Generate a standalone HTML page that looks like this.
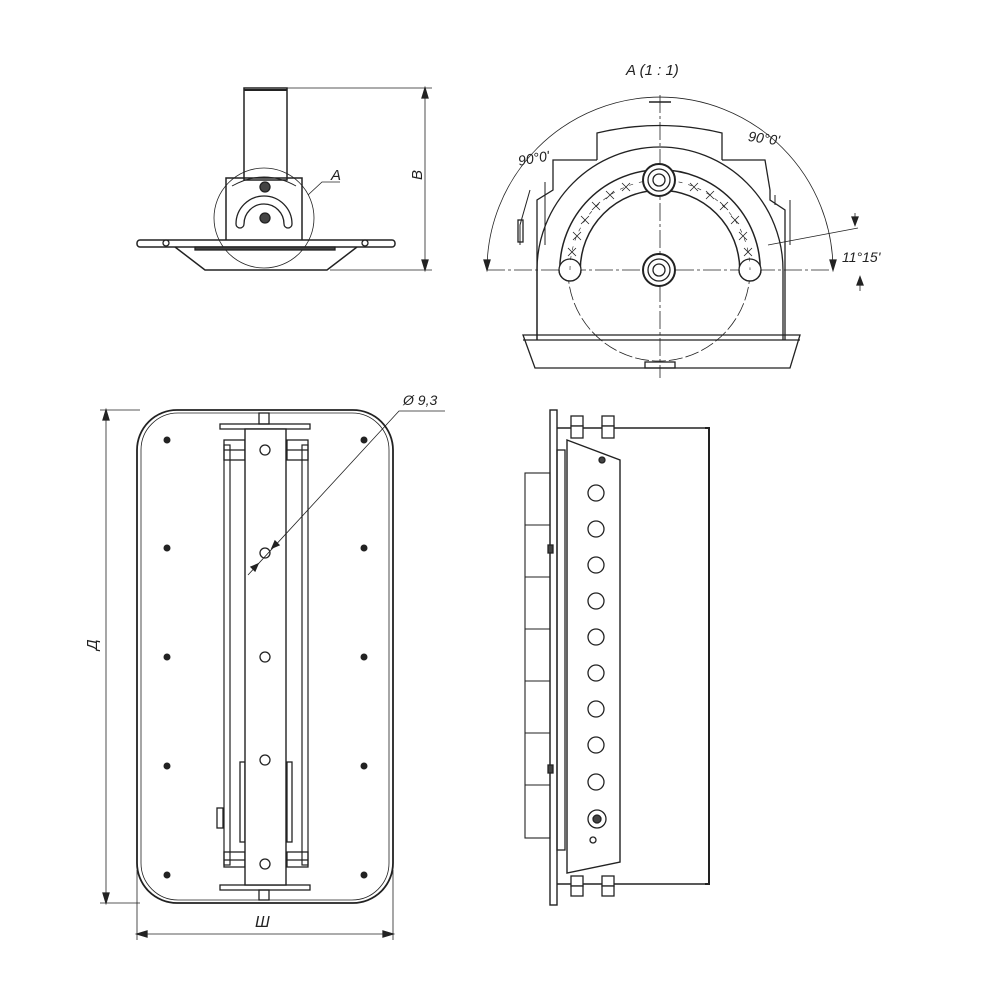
<!DOCTYPE html>
<html><head><meta charset="utf-8"><style>
html,body{margin:0;padding:0;background:#fff}
svg{display:block}
text{font-family:"Liberation Sans",sans-serif;font-style:italic;fill:#222}
</style></head><body>
<svg width="1000" height="1000" viewBox="0 0 1000 1000" xmlns="http://www.w3.org/2000/svg">
<g fill="none" stroke="#222" stroke-width="1.3">

<!-- ===== TOP-LEFT VIEW ===== -->
<line x1="287" y1="88" x2="432" y2="88" stroke-width="0.8"/>
<line x1="330" y1="270" x2="432" y2="270" stroke-width="0.8"/>
<line x1="425" y1="88" x2="425" y2="270" stroke-width="0.8"/>
<path d="M425 88 l-3 10 h6z M425 270 l-3 -10 h6z" fill="#222"/>
<rect x="244" y="88" width="43" height="92" stroke-width="1.5"/>
<line x1="244" y1="90" x2="287" y2="90" stroke-width="2"/>
<circle cx="264" cy="218" r="50" stroke-width="0.8"/>
<path d="M226 240 V178 H302 V240" stroke-width="1.5"/>
<path d="M232 186 q32 -18 64 0" stroke-width="1"/>
<path d="M236 224 A28 28 0 0 1 292 224 M244 224 A20 20 0 0 1 284 224 M236 224 a4 4 0 0 0 8 0 M284 224 a4 4 0 0 0 8 0" stroke-width="1.3"/>
<circle cx="265" cy="187" r="5" fill="#444"/>
<circle cx="265" cy="218" r="5" fill="#444"/>
<rect x="137" y="240" width="258" height="7" rx="3" stroke-width="1.5"/>
<path d="M175 247 L205 270 H327 L357 247" stroke-width="1.5"/>
<rect x="195" y="247" width="140" height="3" fill="#444"/>
<circle cx="166" cy="243" r="3"/><circle cx="365" cy="243" r="3"/>
<path d="M308 195 L322 182 H340" stroke-width="0.8"/>

<!-- ===== TOP-RIGHT DETAIL A ===== -->
<line x1="487" y1="270" x2="830" y2="270" stroke-width="0.8" stroke-dasharray="18 3 3 3"/>
<line x1="660" y1="95" x2="660" y2="378" stroke-width="0.8" stroke-dasharray="18 3 3 3"/>
<path d="M487 270 A173 173 0 0 1 833 270" stroke-width="0.8"/>
<path d="M649 102 h22" stroke-width="1.5"/>
<path d="M487 270 l-3 -10 h6z M833 270 l-3 -10 h6z" fill="#222"/>
<path d="M537 340 V200 L553 190 V160 H597 M722 160 H765 L770 190 V200 L785 210 V340" stroke-width="1.3"/>
<path d="M597 160 V133 Q660 118 722 133 V160" stroke-width="1.3"/>
<path d="M537 340 V270 A123 123 0 0 1 783 270 V340" stroke-width="1.3"/>
<path d="M520 245 V225 L530 190 M545 182 V245 M790 200 V245 M775 195 v10" stroke-width="1"/>
<rect x="518" y="220" width="5" height="22"/>
<circle cx="659" cy="270" r="91" stroke-width="0.8" stroke-dasharray="14 3"/>
<path d="M570 270 A90 90 0 0 1 750 270" stroke-width="22" stroke="#222"/>
<path d="M570 270 A90 90 0 0 1 750 270" stroke-width="19" stroke="#fff"/>
<circle cx="570" cy="270" r="11" fill="#fff"/>
<circle cx="750" cy="270" r="11" fill="#fff"/>
<path d="M559 270 a11 11 0 0 0 22 0 M739 270 a11 11 0 0 0 22 0" stroke-width="1.3"/>
<path d="M570 270 A90 90 0 0 1 750 270" stroke-width="0.6" stroke-dasharray="4 6"/>
<g stroke-width="0.8">
<path d="M568 248 l8 8 M576 248 l-8 8 M573 232 l8 8 M581 232 l-8 8 M581 216 l8 8 M589 216 l-8 8 M592 202 l8 8 M600 202 l-8 8 M606 191 l8 8 M614 191 l-8 8 M622 183 l8 8 M630 183 l-8 8"/>
<path d="M744 248 l8 8 M752 248 l-8 8 M739 232 l8 8 M747 232 l-8 8 M731 216 l8 8 M739 216 l-8 8 M720 202 l8 8 M728 202 l-8 8 M706 191 l8 8 M714 191 l-8 8 M690 183 l8 8 M698 183 l-8 8"/>
</g>
<circle cx="659" cy="180" r="16" fill="#fff" stroke-width="2"/>
<circle cx="659" cy="180" r="11"/><circle cx="659" cy="180" r="6"/>
<circle cx="659" cy="270" r="16" fill="#fff" stroke-width="2"/>
<circle cx="659" cy="270" r="11"/><circle cx="659" cy="270" r="6"/>
<path d="M523 335 H800 L790 368 H535 Z" stroke-width="1.3"/>
<line x1="523" y1="340" x2="800" y2="340"/>
<rect x="645" y="362" width="30" height="6"/>
<path d="M768 245 L858 228 M855 213 v12 M860 277 v14" stroke-width="0.8"/>
<path d="M855 225 l-3 -8 h6z M860 277 l-3 8 h6z" fill="#222"/>

<!-- ===== FRONT VIEW ===== -->
<line x1="100" y1="410" x2="140" y2="410" stroke-width="0.8"/>
<line x1="100" y1="903" x2="140" y2="903" stroke-width="0.8"/>
<line x1="106" y1="410" x2="106" y2="903" stroke-width="0.8"/>
<path d="M106 410 l-3 10 h6z M106 903 l-3 -10 h6z" fill="#222"/>
<line x1="137" y1="870" x2="137" y2="940" stroke-width="0.8"/>
<line x1="393" y1="870" x2="393" y2="940" stroke-width="0.8"/>
<line x1="137" y1="934" x2="393" y2="934" stroke-width="0.8"/>
<path d="M137 934 l10 -3 v6z M393 934 l-10 -3 v6z" fill="#222"/>
<rect x="137" y="410" width="256" height="493" rx="40" stroke-width="1.8"/>
<rect x="141" y="413" width="248" height="487" rx="37" stroke-width="0.8"/>
<g fill="#222" stroke="none">
<circle cx="167" cy="440" r="3.5"/><circle cx="364" cy="440" r="3.5"/>
<circle cx="167" cy="548" r="3.5"/><circle cx="364" cy="548" r="3.5"/>
<circle cx="167" cy="657" r="3.5"/><circle cx="364" cy="657" r="3.5"/>
<circle cx="167" cy="766" r="3.5"/><circle cx="364" cy="766" r="3.5"/>
<circle cx="167" cy="875" r="3.5"/><circle cx="364" cy="875" r="3.5"/>
</g>
<rect x="224" y="445" width="6" height="420" stroke-width="1.2"/>
<rect x="302" y="445" width="6" height="420" stroke-width="1.2"/>
<rect x="224" y="440" width="21" height="20"/><rect x="287" y="440" width="21" height="20"/>
<rect x="224" y="852" width="21" height="15"/><rect x="287" y="852" width="21" height="15"/>
<line x1="224" y1="450" x2="308" y2="450"/><line x1="224" y1="860" x2="308" y2="860"/>
<rect x="240" y="762" width="5" height="80"/><rect x="287" y="762" width="5" height="80"/>
<rect x="217" y="808" width="6" height="20"/>
<rect x="220" y="424" width="90" height="5" stroke-width="1.3"/>
<rect x="220" y="885" width="90" height="5" stroke-width="1.3"/>
<rect x="259" y="413" width="10" height="11"/><rect x="259" y="890" width="10" height="10"/>
<rect x="245" y="429" width="41" height="456" fill="#fff" stroke-width="1.4"/>
<circle cx="265" cy="450" r="5"/><circle cx="265" cy="553" r="5"/>
<circle cx="265" cy="657" r="5"/><circle cx="265" cy="760" r="5"/><circle cx="265" cy="864" r="5"/>
<path d="M248 575 L399 411 H445" stroke-width="0.8"/>
<path d="M258 564 l-7 3 4 4z M272 548 l7 -3 -4 -4z" fill="#222"/>

<!-- ===== SIDE VIEW ===== -->
<rect x="550" y="410" width="7" height="495" stroke-width="1.4"/>
<rect x="525" y="473" width="25" height="365" stroke-width="1.1"/>
<path d="M525 525 h25 M525 577 h25 M525 629 h25 M525 681 h25 M525 733 h25 M525 785 h25" stroke-width="1.1"/>
<line x1="557" y1="428" x2="708" y2="428" stroke-width="1.4"/>
<line x1="557" y1="884" x2="708" y2="884" stroke-width="1.4"/>
<path d="M705 428 H709 V884 H705" stroke-width="2"/>
<rect x="557" y="450" width="8" height="400"/>
<path d="M567 440 L620 460 V862 L567 873 Z" fill="#fff" stroke-width="1.4"/>
<circle cx="602" cy="460" r="3" fill="#444"/>
<g stroke-width="1.3">
<circle cx="596" cy="493" r="8"/><circle cx="596" cy="529" r="8"/><circle cx="596" cy="565" r="8"/>
<circle cx="596" cy="601" r="8"/><circle cx="596" cy="637" r="8"/><circle cx="596" cy="673" r="8"/>
<circle cx="596" cy="709" r="8"/><circle cx="596" cy="745" r="8"/><circle cx="596" cy="782" r="8"/>
<circle cx="597" cy="819" r="9"/><circle cx="597" cy="819" r="4" fill="#444"/>
<circle cx="593" cy="840" r="3"/>
</g>
<g fill="#fff" stroke-width="1.3">
<rect x="571" y="416" width="12" height="10"/><rect x="571" y="426" width="12" height="12"/>
<rect x="602" y="416" width="12" height="10"/><rect x="602" y="426" width="12" height="12"/>
<rect x="571" y="876" width="12" height="10"/><rect x="571" y="886" width="12" height="10"/>
<rect x="602" y="876" width="12" height="10"/><rect x="602" y="886" width="12" height="10"/>
</g>
<rect x="548" y="545" width="5" height="8" fill="#444"/><rect x="548" y="765" width="5" height="8" fill="#444"/>
</g>

<text x="626" y="75" font-size="15">A  (1 : 1)</text>
<text x="518" y="162" font-size="14" transform="rotate(-10 540 158)">90°0'</text>
<text x="748" y="144" font-size="14" transform="rotate(8 770 140)">90°0'</text>
<text x="842" y="262" font-size="14">11°15'</text>
<text x="331" y="180" font-size="15">A</text>
<text x="0" y="0" font-size="15" transform="translate(422 180) rotate(-90)">B</text>
<text x="0" y="0" font-size="15" transform="translate(97 650) rotate(-90)">Д</text>
<text x="255" y="927" font-size="16">Ш</text>
<text x="403" y="405" font-size="14">Ø 9,3</text>
</svg>
</body></html>
